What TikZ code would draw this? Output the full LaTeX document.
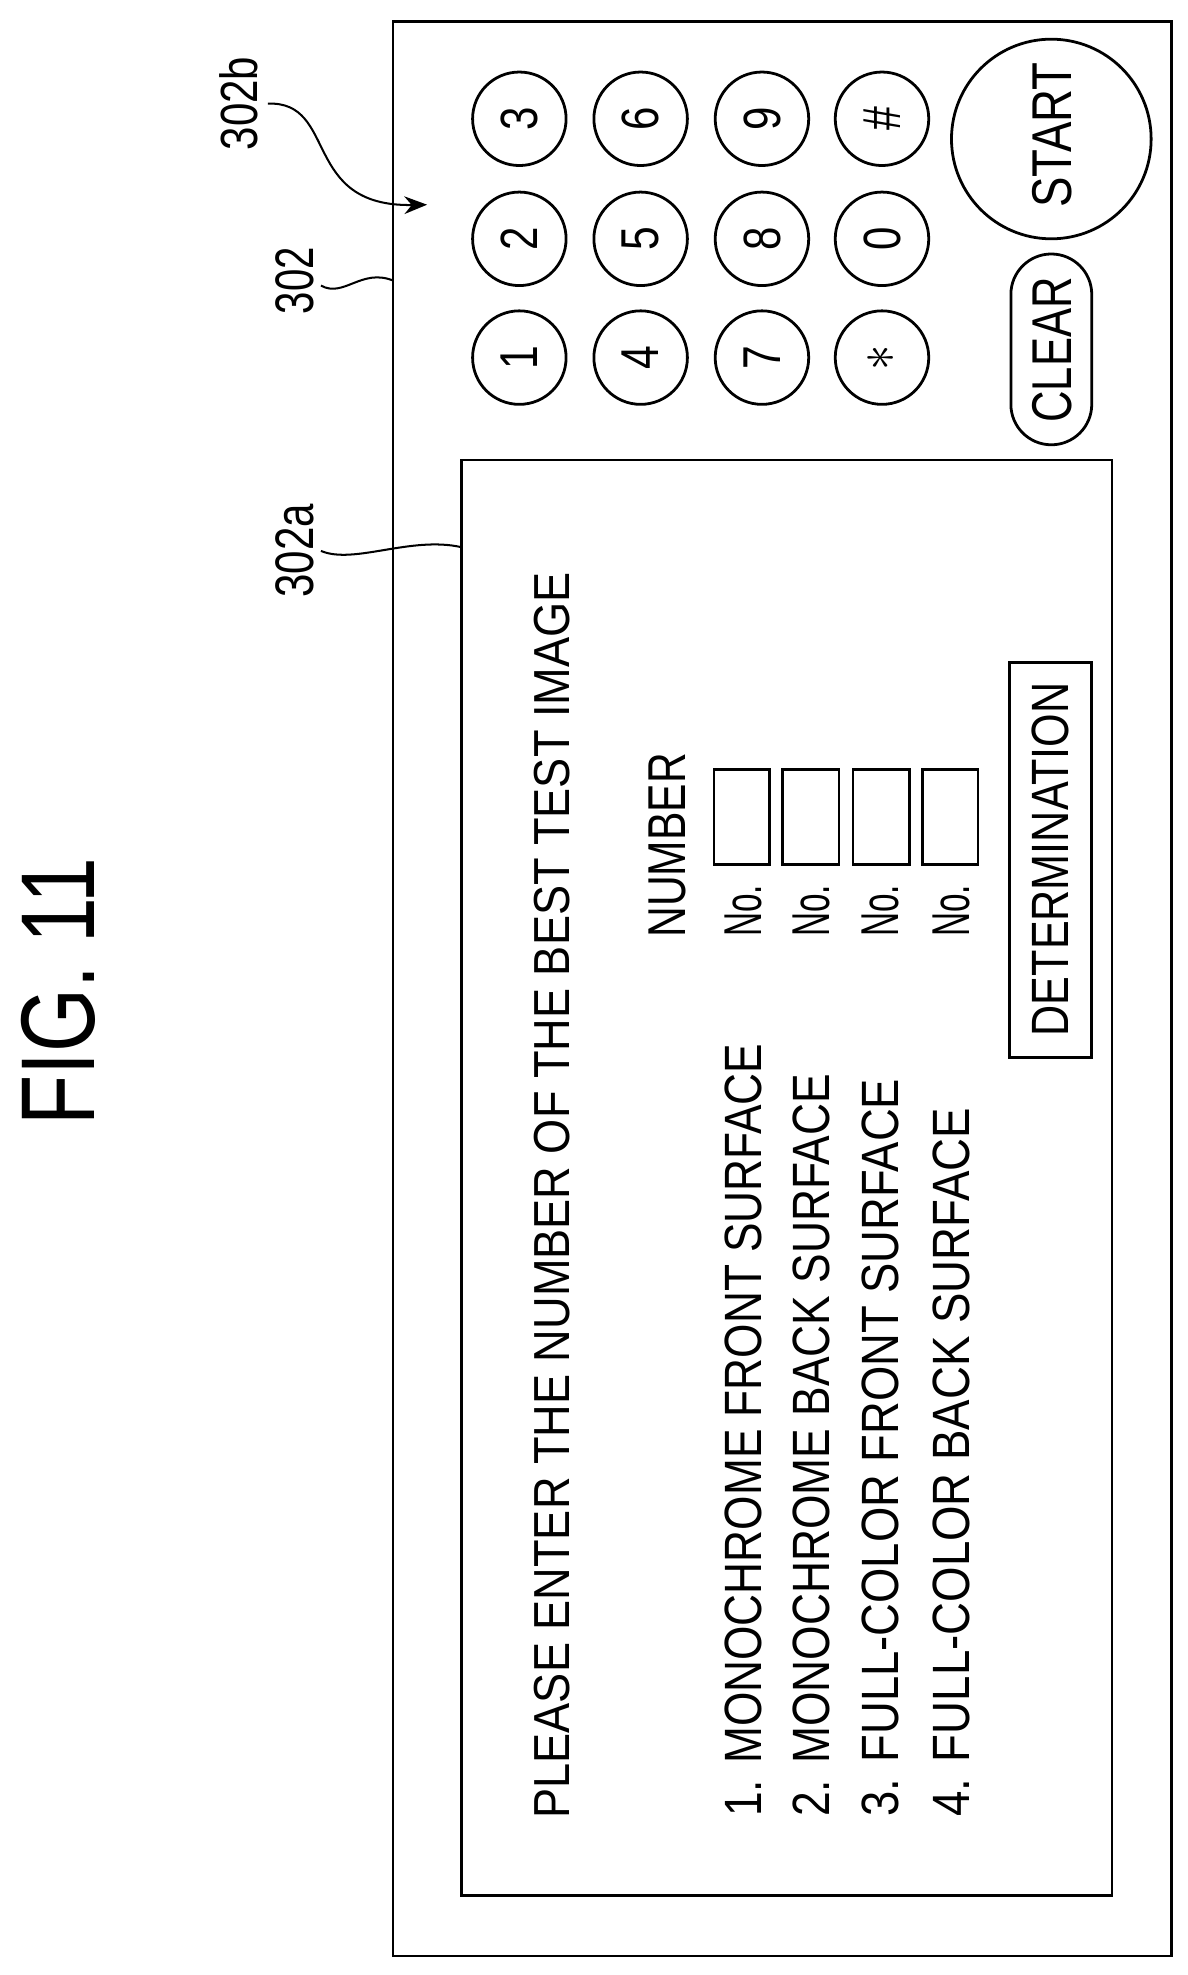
\documentclass[tikz,border=0pt]{standalone}
\usepackage{fontspec}
\setmainfont{Liberation Sans}
\usepackage{graphicx}
\usetikzlibrary{arrows.meta}
\newcommand{\Tx}[3]{\resizebox{#1}{#2}{#3}}
\begin{document}
\begin{tikzpicture}[x=0.5pt,y=-0.5pt,line width=1.1pt,
  rt/.style={rotate=90,inner sep=0pt},
  key/.style={draw,circle,minimum size=37pt,inner sep=0pt},
  lead/.style={line width=0.8pt}]
\useasboundingbox (0,0) rectangle (940,1563);
% frames
\draw (311,17) rectangle (927,1548);
\draw (365,364) rectangle (880,1500);
\coordinate (f302) at (311,222);
\coordinate (f302a) at (365,433);
\coordinate (k302b) at (338,162);
% title
\node[rt] (fig) at (46,785) {\Tx{106pt}{29pt}{FIG. 11}};
% labels
\node[rt] (l302b) at (189,82) {\Tx{37pt}{15pt}{302b}};
\node[rt] (l302) at (233,222) {\Tx{26.5pt}{15pt}{302}};
\node[rt] (l302a) at (233,436) {\Tx{37pt}{15pt}{302a}};
\coordinate (s302b) at (212,82);
\coordinate (s302) at (254,226);
\coordinate (s302a) at (254,436);
\draw[lead,-{Stealth[length=9pt,width=7pt]}] (s302b) .. controls (268,80) and (238,164) .. (k302b);
\draw[lead] (s302) .. controls (272,236) and (286,212) .. (f302);
\draw[lead] (s302a) .. controls (280,447) and (325,424) .. (f302a);
% keypad
\foreach \c/\x in {0/411,1/507,2/603,3/698}{
  \foreach \r/\y in {0/283,1/189,2/94}{
    \node[key] (k\c\r) at (\x,\y) {};
  }}
\foreach \n/\lab in {k00/1,k01/2,k02/3,k10/4,k11/5,k12/6,k20/7,k21/8,k22/9,k31/0}{
  \node[rt] at (\n) {\Tx{!}{14.5pt}{\scalebox{0.8}[1]{\lab}}};}
\node[rt] at (k30) {\Tx{!}{11pt}{\scalebox{0.85}[1]{$\ast$}}};
\node[rt] at (k32) {\Tx{!}{14.5pt}{\scalebox{0.8}[1]{\#}}};
\node[draw,circle,minimum size=79pt,inner sep=0pt] (start) at (832,110) {};
\node[rt] at (833,107) {\Tx{57.5pt}{15.5pt}{START}};
\draw[rounded corners=16pt] (800,201) rectangle (864,352);
\node[rt] (clear) at (833,277) {\Tx{57.5pt}{15.5pt}{CLEAR}};
% screen texts
\node[rt] (please) at (437,946) {\Tx{493pt}{14pt}{PLEASE ENTER THE NUMBER OF THE BEST TEST IMAGE}};
\node[rt,anchor=west] (i1) at (588,1439) {\Tx{306pt}{14.5pt}{1. MONOCHROME FRONT SURFACE}};
\node[rt,anchor=west] (i2) at (642,1439) {\Tx{294pt}{14.5pt}{2. MONOCHROME BACK SURFACE}};
\node[rt,anchor=west] (i3) at (697,1439) {\Tx{292pt}{14.5pt}{3. FULL-COLOR FRONT SURFACE}};
\node[rt,anchor=west] (i4) at (753,1439) {\Tx{280.5pt}{14.5pt}{4. FULL-COLOR BACK SURFACE}};
\node[rt] (num) at (528,669) {\Tx{73pt}{14.5pt}{NUMBER}};
\foreach \i/\x/\a/\b in {1/588/565/609,2/642/619/664,3/697/675/720,4/753/730/774}{
  \node[rt] (no\i) at (\x,721) {\Tx{20.5pt}{14.5pt}{No.}};
  \draw (\a,609) rectangle (\b,684);
}
\draw (799,524) rectangle (864,837);
\node[rt] (det) at (831,680) {\Tx{140pt}{14.5pt}{DETERMINATION}};
\end{tikzpicture}
\end{document}
